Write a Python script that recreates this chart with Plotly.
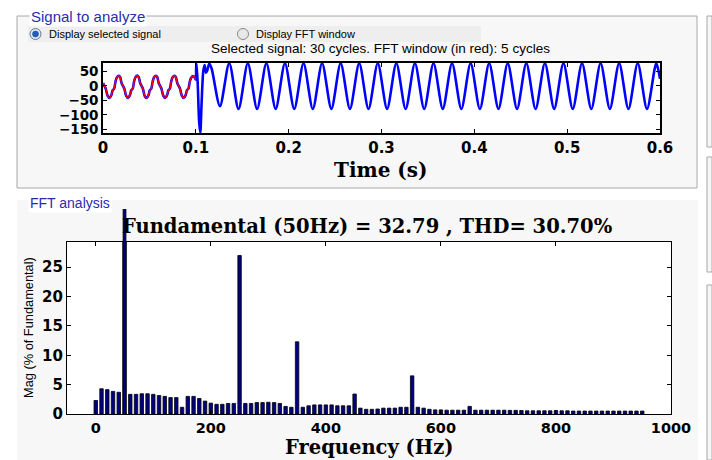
import plotly.graph_objects as go

W, H = 712, 460

# ---------------- data ----------------
# selected signal: key samples (time s, value)
t_sig = [0.0000, 0.0015, 0.0030, 0.0050, 0.0070, 0.0090, 0.0105, 0.0120, 0.0135, 0.0150,
         0.0170, 0.0185, 0.0200, 0.0215, 0.0230, 0.0250, 0.0270, 0.0290, 0.0305, 0.0320,
         0.0335, 0.0350, 0.0370, 0.0385, 0.0400, 0.0415, 0.0430, 0.0450, 0.0470, 0.0490,
         0.0505, 0.0520, 0.0535, 0.0550, 0.0570, 0.0585, 0.0600, 0.0615, 0.0630, 0.0650,
         0.0670, 0.0690, 0.0705, 0.0720, 0.0735, 0.0750, 0.0770, 0.0785, 0.0800, 0.0815,
         0.0830, 0.0850, 0.0870, 0.0890, 0.0905, 0.0920, 0.0935, 0.0950, 0.0970, 0.0985,
         0.1000,
         0.1003, 0.1007, 0.1020, 0.1035, 0.1048, 0.1062, 0.1080, 0.1095, 0.1110, 0.1125,
         0.1145, 0.1170, 0.1260,
         0.1360, 0.1460, 0.1560, 0.1660, 0.1760, 0.1860, 0.1960, 0.2060, 0.2160, 0.2260,
         0.2360, 0.2460, 0.2560, 0.2660, 0.2760, 0.2860, 0.2960, 0.3060, 0.3160, 0.3260,
         0.3360, 0.3460, 0.3560, 0.3660, 0.3760, 0.3860, 0.3960, 0.4060, 0.4160, 0.4260,
         0.4360, 0.4460, 0.4560, 0.4660, 0.4760, 0.4860, 0.4960, 0.5060, 0.5160, 0.5260,
         0.5360, 0.5460, 0.5560, 0.5660, 0.5760, 0.5860, 0.5960, 0.6000]
v_sig = [10, 0, -10, -35, -42, -32, -15, -10, 15, 30,
         35, 30, 10, 0, -10, -35, -42, -32, -15, -10,
         15, 30, 36, 30, 10, 0, -10, -36, -42, -32,
         -15, -10, 15, 30, 35, 30, 10, 0, -10, -35,
         -42, -32, -15, -10, 15, 30, 35, 30, 10, 0,
         -10, -35, -42, -32, -15, -10, 15, 28, 34, 30,
         22,
         60, 78, 10, -120, -162, -60, 50, 72, 45, 55,
         77, 60, -70,
         78, -80, 78, -80, 78, -80, 78, -80, 78, -80,
         78, -80, 78, -80, 78, -80, 78, -80, 78, -80,
         78, -80, 78, -80, 78, -80, 78, -80, 78, -80,
         78, -80, 78, -80, 78, -80, 78, -80, 78, -80,
         78, -80, 78, -80, 78, -80, 78, 24]
fft_window_end = 0.1   # 5 cycles shown in red

# FFT spectrum (% of fundamental)
freq_hz = [0, 10, 20, 30, 40, 50, 60, 70, 80, 90,
           100, 110, 120, 130, 140, 150, 160, 170, 180, 190,
           200, 210, 220, 230, 240, 250, 260, 270, 280, 290,
           300, 310, 320, 330, 340, 350, 360, 370, 380, 390,
           400, 410, 420, 430, 440, 450, 460, 470, 480, 490,
           500, 510, 520, 530, 540, 550, 560, 570, 580, 590,
           600, 610, 620, 630, 640, 650, 660, 670, 680, 690,
           700, 710, 720, 730, 740, 750, 760, 770, 780, 790,
           800, 810, 820, 830, 840, 850, 860, 870, 880, 890,
           900, 910, 920, 930, 940, 950]
mag_pct = [2.3, 4.3, 4.15, 3.85, 3.7, 100, 3.35, 3.35, 3.45, 3.45,
           3.35, 3.15, 3.0, 2.8, 2.8, 1.15, 3.0, 3.0, 2.65, 2.2,
           1.85, 1.65, 1.65, 1.8, 1.8, 27.0, 1.8, 1.8, 1.95, 1.95,
           2.0, 1.95, 1.8, 1.3, 1.15, 12.3, 1.15, 1.4, 1.55, 1.55,
           1.55, 1.55, 1.4, 1.4, 1.4, 3.4, 1.0, 0.8, 0.8, 0.85,
           1.0, 1.0, 1.0, 1.15, 1.15, 6.5, 1.15, 1.0, 0.8, 0.7,
           0.7, 0.65, 0.65, 0.65, 0.65, 1.3, 0.65, 0.65, 0.65, 0.65,
           0.65, 0.65, 0.62, 0.62, 0.6, 0.55, 0.55, 0.55, 0.55, 0.55,
           0.6, 0.55, 0.55, 0.5, 0.5, 0.5, 0.5, 0.5, 0.5, 0.5,
           0.5, 0.5, 0.5, 0.5, 0.5, 0.5]

title_text = "Fundamental (50Hz) = 32.79 , THD= 30.70%"
sig_xticks = [0, 0.1, 0.2, 0.3, 0.4, 0.5, 0.6]
sig_xticklabels = ["0", "0.1", "0.2", "0.3", "0.4", "0.5", "0.6"]
sig_yticks = [50, 0, -50, -100, -150]
fft_xticks = [0, 200, 400, 600, 800, 1000]
fft_yticks = [0, 5, 10, 15, 20, 25]

# ---------------- helpers ----------------
def X(px):
    return min(max(px / W, 0.0), 1.0)

def Y(py):
    return min(max(1 - py / H, 0.0), 1.0)

SIG_Y = [-163, 79]
FFT_X = [-50, 1000]
FFT_Y = [0, 29.3]
fft_top_px, fft_bot_px, spike_top_px = 242, 414, 209
SPIKE_Y = [0, FFT_Y[1] * (fft_bot_px - spike_top_px) / (fft_bot_px - fft_top_px)]

tick_font = dict(family="DejaVu Sans", size=15, color="black", weight="bold")
label_font = dict(family="DejaVu Serif", size=20, color="black", weight="bold")

win_t = [t for t in t_sig if t <= fft_window_end]
win_v = [v for t, v in zip(t_sig, v_sig) if t <= fft_window_end]

spike_f = [f for f, m in zip(freq_hz, mag_pct) if m > FFT_Y[1]]
spike_m = [m for m in mag_pct if m > FFT_Y[1]]

fig = go.Figure()

fig.add_trace(go.Scatter(x=t_sig, y=v_sig, mode="lines",
                         line=dict(color="#0000ff", width=2.6, shape="spline", smoothing=0.8),
                         xaxis="x", yaxis="y", hoverinfo="skip", showlegend=False))
fig.add_trace(go.Scatter(x=win_t, y=win_v, mode="lines",
                         line=dict(color="#ff0000", width=1.4, shape="spline", smoothing=0.8),
                         xaxis="x", yaxis="y", hoverinfo="skip", showlegend=False))

bar_marker = dict(color="#000080", line=dict(color="#000000", width=0.8))
fig.add_trace(go.Bar(x=freq_hz, y=mag_pct, width=6, marker=bar_marker,
                     xaxis="x2", yaxis="y2", hoverinfo="skip", showlegend=False))
fig.add_trace(go.Bar(x=spike_f, y=spike_m, width=5, marker=bar_marker,
                     xaxis="x3", yaxis="y3", hoverinfo="skip", showlegend=False))

axis_common = dict(showgrid=False, zeroline=False, showline=True, linecolor="black",
                   mirror="ticks", ticks="inside", ticklen=4, tickcolor="black",
                   automargin=False)

shapes = []
shapes.append(dict(type="rect", xref="paper", yref="paper", x0=X(17), x1=X(697), y0=Y(188), y1=Y(16),
                   fillcolor="#f7f7f7", line=dict(color="#a8a8a8", width=1), layer="below"))
shapes.append(dict(type="rect", xref="paper", yref="paper", x0=X(28), x1=X(481), y0=Y(42), y1=Y(26),
                   fillcolor="#eeeeee", line=dict(width=0), layer="below"))
shapes.append(dict(type="rect", xref="paper", yref="paper", x0=X(17), x1=X(698), y0=Y(460), y1=Y(200),
                   fillcolor="#f7f7f7", line=dict(width=0), layer="below"))
for y0p, y1p in [(16, 147), (157, 272), (285, 460)]:
    shapes.append(dict(type="rect", xref="paper", yref="paper", x0=X(707), x1=X(712), y0=Y(y1p), y1=Y(y0p),
                       fillcolor="#f7f7f7", line=dict(color="#a8a8a8", width=1), layer="below"))
shapes.append(dict(type="rect", xref="paper", yref="paper", x0=X(103), x1=X(660), y0=Y(133), y1=Y(63),
                   fillcolor="white", line=dict(width=0), layer="below"))
shapes.append(dict(type="rect", xref="paper", yref="paper", x0=X(67), x1=X(671), y0=Y(414), y1=Y(242),
                   fillcolor="white", line=dict(width=0), layer="below"))
shapes.append(dict(type="circle", xref="paper", yref="paper", x0=X(30), x1=X(41), y0=Y(39.5), y1=Y(28.5),
                   fillcolor="#dfe8f5", line=dict(color="#6a7a90", width=1)))
shapes.append(dict(type="circle", xref="paper", yref="paper", x0=X(32.5), x1=X(38.5), y0=Y(37), y1=Y(31),
                   fillcolor="#1f5fbf", line=dict(color="#0d3f8f", width=0.5)))
shapes.append(dict(type="circle", xref="paper", yref="paper", x0=X(237.5), x1=X(248.5), y0=Y(39.5), y1=Y(28.5),
                   fillcolor="#e8e8e8", line=dict(color="#8a8a8a", width=1)))

annotations = [
    dict(text="Signal to analyze", x=X(29), y=Y(16), xref="paper", yref="paper", xanchor="left",
         yanchor="middle", showarrow=False, bgcolor="white",
         font=dict(family="Liberation Sans", size=15, color="#2b2bb0")),
    dict(text="Display selected signal", x=X(47), y=Y(34), xref="paper", yref="paper", xanchor="left",
         yanchor="middle", showarrow=False, font=dict(family="Liberation Sans", size=11, color="black")),
    dict(text="Display FFT window", x=X(254), y=Y(34), xref="paper", yref="paper", xanchor="left",
         yanchor="middle", showarrow=False, font=dict(family="Liberation Sans", size=11, color="black")),
    dict(text="Selected signal: 30 cycles. FFT window (in red): 5 cycles", x=X(380), y=Y(49),
         xref="paper", yref="paper", xanchor="center", yanchor="middle", showarrow=False,
         font=dict(family="Liberation Sans", size=13.5, color="black")),
    dict(text="Time (s)", x=X(381), y=Y(170), xref="paper", yref="paper", xanchor="center",
         yanchor="middle", showarrow=False, font=label_font),
    dict(text="FFT analysis", x=X(28), y=Y(203), xref="paper", yref="paper", xanchor="left",
         yanchor="middle", showarrow=False, bgcolor="white",
         font=dict(family="Liberation Sans", size=14, color="#2b2bb0")),
    dict(text=title_text, x=X(367), y=Y(226), xref="paper", yref="paper", xanchor="center",
         yanchor="middle", showarrow=False,
         font=dict(family="DejaVu Serif", size=19.5, color="black", weight="bold")),
    dict(text="Frequency (Hz)", x=X(369), y=Y(447.5), xref="paper", yref="paper", xanchor="center",
         yanchor="middle", showarrow=False, font=dict(label_font, size=19.5)),
    dict(text="Mag (% of Fundamental)", x=X(28), y=Y(328), xref="paper", yref="paper", xanchor="center",
         yanchor="middle", showarrow=False, textangle=-90,
         font=dict(family="Liberation Sans", size=12.8, color="black")),
]

fig.update_layout(
    width=W, height=H, autosize=False, margin=dict(l=0, r=0, t=0, b=0, pad=0, autoexpand=False),
    paper_bgcolor="white", plot_bgcolor="rgba(0,0,0,0)",
    showlegend=False, barmode="overlay",
    xaxis=dict(domain=[X(103), X(660)], range=[0, 0.6], tickvals=sig_xticks, ticktext=sig_xticklabels,
               anchor="y", linewidth=1.6, tickfont=tick_font, **axis_common),
    yaxis=dict(domain=[Y(133), Y(63)], range=SIG_Y, tickvals=sig_yticks, anchor="x",
               linewidth=1.6, tickfont=dict(tick_font, size=13.5), **axis_common),
    xaxis2=dict(domain=[X(67), X(671)], range=FFT_X, tickvals=fft_xticks, anchor="y2",
                linewidth=1.2, tickfont=dict(tick_font, size=14.5), **axis_common),
    yaxis2=dict(domain=[Y(fft_bot_px), Y(fft_top_px)], range=FFT_Y, tickvals=fft_yticks, anchor="x2",
                linewidth=1.2, tickfont=tick_font, **axis_common),
    xaxis3=dict(domain=[X(67), X(671)], range=FFT_X, anchor="y3", visible=False),
    yaxis3=dict(domain=[Y(fft_bot_px), Y(spike_top_px)], range=SPIKE_Y, anchor="x3", visible=False),
    shapes=shapes, annotations=annotations,
)

fig.write_html("out.html")
